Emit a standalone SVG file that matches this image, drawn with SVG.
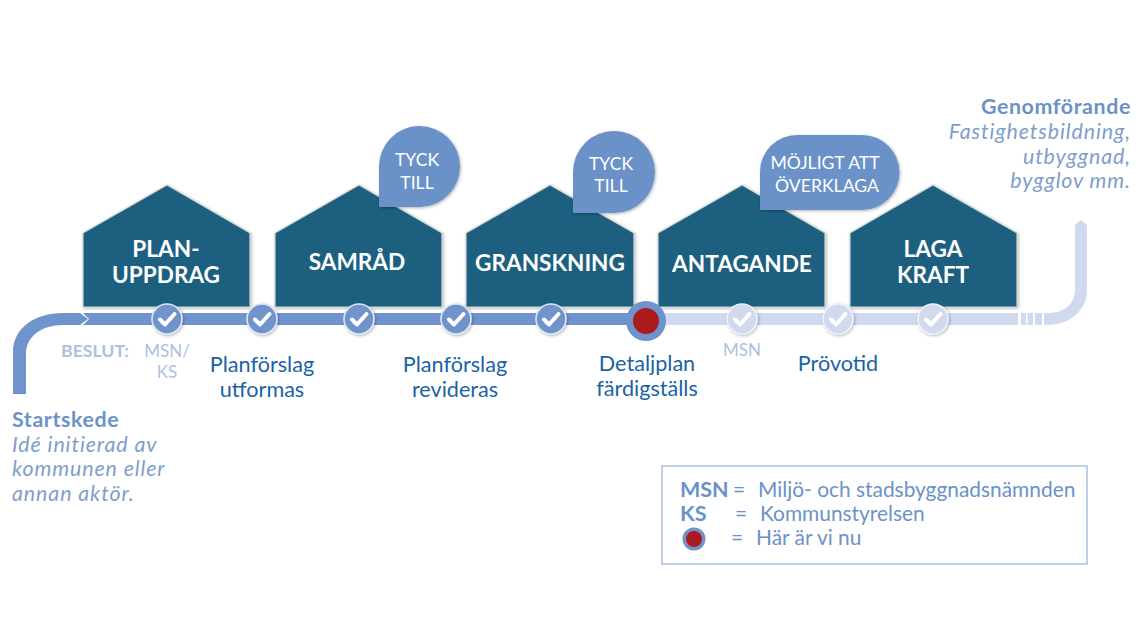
<svg xmlns="http://www.w3.org/2000/svg" width="1140" height="642" viewBox="0 0 1140 642">
<style>
text{font-family:"Lato","Open Sans","Liberation Sans",sans-serif}
.h{fill:#1c5f7f;stroke:#cfd3d3;stroke-width:1.2}
.ht{fill:#fff;font-size:22.6px;font-weight:700;text-anchor:middle}
.bub{fill:#6b92c8}
.bt{fill:#fff;font-size:17.6px;text-anchor:middle}
.st{fill:#1a63a6;font-size:21.6px;text-anchor:middle}
.pale{fill:#aebfe0;font-size:17px;text-anchor:middle}
.head{fill:#6b92c8;font-size:21.4px;font-weight:700;letter-spacing:.6px}
.it{fill:#7f9ecb;font-size:21.4px;font-style:italic;letter-spacing:.9px}
.leg{fill:#6b92c8;font-size:20.9px}
.legb{fill:#6b92c8;font-size:21.5px;font-weight:700}
.c1{fill:#6f93cc;stroke:#dfe6f3;stroke-width:1.6}
.c2{fill:#d0d9ee;stroke:#eef1f8;stroke-width:1.6}
.ck{fill:none;stroke:#fff;stroke-width:4;stroke-linecap:round;stroke-linejoin:round}
</style>
<defs>
<filter id="sh" x="-20%" y="-20%" width="140%" height="140%"><feDropShadow dx="1" dy="1" stdDeviation="1.6" flood-color="#000" flood-opacity=".3"/></filter>
<path id="tick" class="ck" d="M-7 0.5L-2 5.5L7.5-5"/>
</defs>
<g id="connectors">
<path fill="#6f93cc" d="M13 394V352C13 328 35 313 63 313H80L88 319L80 325H63C42 325 26 336 26 354V394Z"/>
<path fill="#6f93cc" d="M83 313H650V325H83L89 319Z"/>
<path fill="#d0d9ee" d="M650 313H1018V325H650Z"/>
<path fill="#d0d9ee" d="M1021 313H1026V325H1021ZM1027.500 313H1033V325H1027.500ZM1035 313H1042V325H1035ZM1044 313H1048C1064 313 1075 304 1075 290V225L1081 220L1087 225V290C1087 310 1070 325 1048 325H1044Z"/>
</g>
<g id="house-1"><path class="h" filter="url(#sh)" d="M83 233L167 185L250 233V307H83Z"/><text class="ht" x="166" y="257">PLAN-</text><text class="ht" x="166" y="283">UPPDRAG</text></g>
<g id="house-2"><path class="h" filter="url(#sh)" d="M275 233L359 185L442 233V307H275Z"/><text class="ht" x="357" y="270">SAMRÅD</text></g>
<g id="house-3"><path class="h" filter="url(#sh)" d="M466 233L550 185L634 233V307H466Z"/><text class="ht" x="550" y="271">GRANSKNING</text></g>
<g id="house-4"><path class="h" filter="url(#sh)" d="M658 233L742 185L825 233V307H658Z"/><text class="ht" x="742" y="272">ANTAGANDE</text></g>
<g id="house-5"><path class="h" filter="url(#sh)" d="M850 233L933 185L1017 233V307H850Z"/><text class="ht" x="933" y="257">LAGA</text><text class="ht" x="933" y="283">KRAFT</text></g>
<g id="bubble-1"><path class="bub" filter="url(#sh)" d="M379 207V167A40.500 40.500 0 1 1 420 207Z"/><text class="bt" x="417" y="166">TYCK</text><text class="bt" x="417" y="189">TILL</text></g>
<g id="bubble-2"><path class="bub" filter="url(#sh)" d="M573 213V172A41 41 0 1 1 614 213Z"/><text class="bt" x="611" y="170">TYCK</text><text class="bt" x="611" y="192">TILL</text></g>
<g id="bubble-3"><path class="bub" filter="url(#sh)" d="M760 210V172A37 37 0 0 1 797 135H862A37.500 37.500 0 0 1 862 210Z"/><text class="bt" x="825" y="169">MÖJLIGT ATT</text><text class="bt" x="827" y="192">ÖVERKLAGA</text></g>
<g id="step-1" filter="url(#sh)"><circle class="c1" cx="167" cy="319" r="15"/><use href="#tick" x="167" y="319"/></g>
<g id="step-2" filter="url(#sh)"><circle class="c1" cx="262" cy="319" r="15"/><use href="#tick" x="262" y="319"/></g>
<g id="step-3" filter="url(#sh)"><circle class="c1" cx="359" cy="319" r="15"/><use href="#tick" x="359" y="319"/></g>
<g id="step-4" filter="url(#sh)"><circle class="c1" cx="456" cy="319" r="15"/><use href="#tick" x="456" y="319"/></g>
<g id="step-5" filter="url(#sh)"><circle class="c1" cx="551" cy="319" r="15"/><use href="#tick" x="551" y="319"/></g>
<g id="step-now"><circle cx="646" cy="321" r="20" fill="#6f93cc"/><circle cx="646" cy="321" r="13" fill="#ab1a1c"/></g>
<g id="step-6" filter="url(#sh)"><circle class="c2" cx="742" cy="319" r="15"/><use href="#tick" x="742" y="319"/></g>
<g id="step-7" filter="url(#sh)"><circle class="c2" cx="838" cy="319" r="15"/><use href="#tick" x="838" y="319"/></g>
<g id="step-8" filter="url(#sh)"><circle class="c2" cx="933" cy="319" r="15"/><use href="#tick" x="933" y="319"/></g>
<g id="labels">
<text x="61" y="357" fill="#aebfe0" font-size="17.700" font-weight="700">BESLUT:</text>
<text class="pale" x="167" y="357">MSN/</text><text class="pale" x="167" y="378">KS</text>
<text class="pale" x="742" y="356">MSN</text>
<text class="st" x="262" y="372">Planförslag</text><text class="st" x="262" y="397">utformas</text>
<text class="st" x="455" y="372">Planförslag</text><text class="st" x="455" y="397">revideras</text>
<text class="st" x="647" y="371">Detaljplan</text><text class="st" x="647" y="396">färdigställs</text>
<text class="st" x="838" y="371">Prövotid</text>
<text class="head" x="12" y="427">Startskede</text>
<text class="it" x="12" y="452">Idé initierad av</text><text class="it" x="12" y="476">kommunen eller</text><text class="it" x="12" y="501">annan aktör.</text>
<text class="head" x="1131" y="114" text-anchor="end">Genomförande</text>
<text class="it" x="1131" y="139" text-anchor="end">Fastighetsbildning,</text><text class="it" x="1131" y="164" text-anchor="end">utbyggnad,</text><text class="it" x="1131" y="188" text-anchor="end">bygglov mm.</text>
</g>
<g id="legend">
<rect x="662" y="466" width="425" height="98" fill="#fff" stroke="#a9c0e0" stroke-width="1.500"/>
<text class="legb" x="680" y="497">MSN</text><text class="leg" x="733" y="497">=</text><text class="leg" x="758" y="497">Miljö- och stadsbyggnadsnämnden</text>
<text class="legb" x="680" y="521">KS</text><text class="leg" x="735" y="521">=</text><text class="leg" x="760" y="521">Kommunstyrelsen</text>
<circle cx="694" cy="539" r="11.500" fill="#6f93cc"/><circle cx="694" cy="539" r="8" fill="#ab1a1c"/>
<text class="leg" x="731" y="545">=</text><text class="leg" x="756" y="545">Här är vi nu</text>
</g>
</svg>
